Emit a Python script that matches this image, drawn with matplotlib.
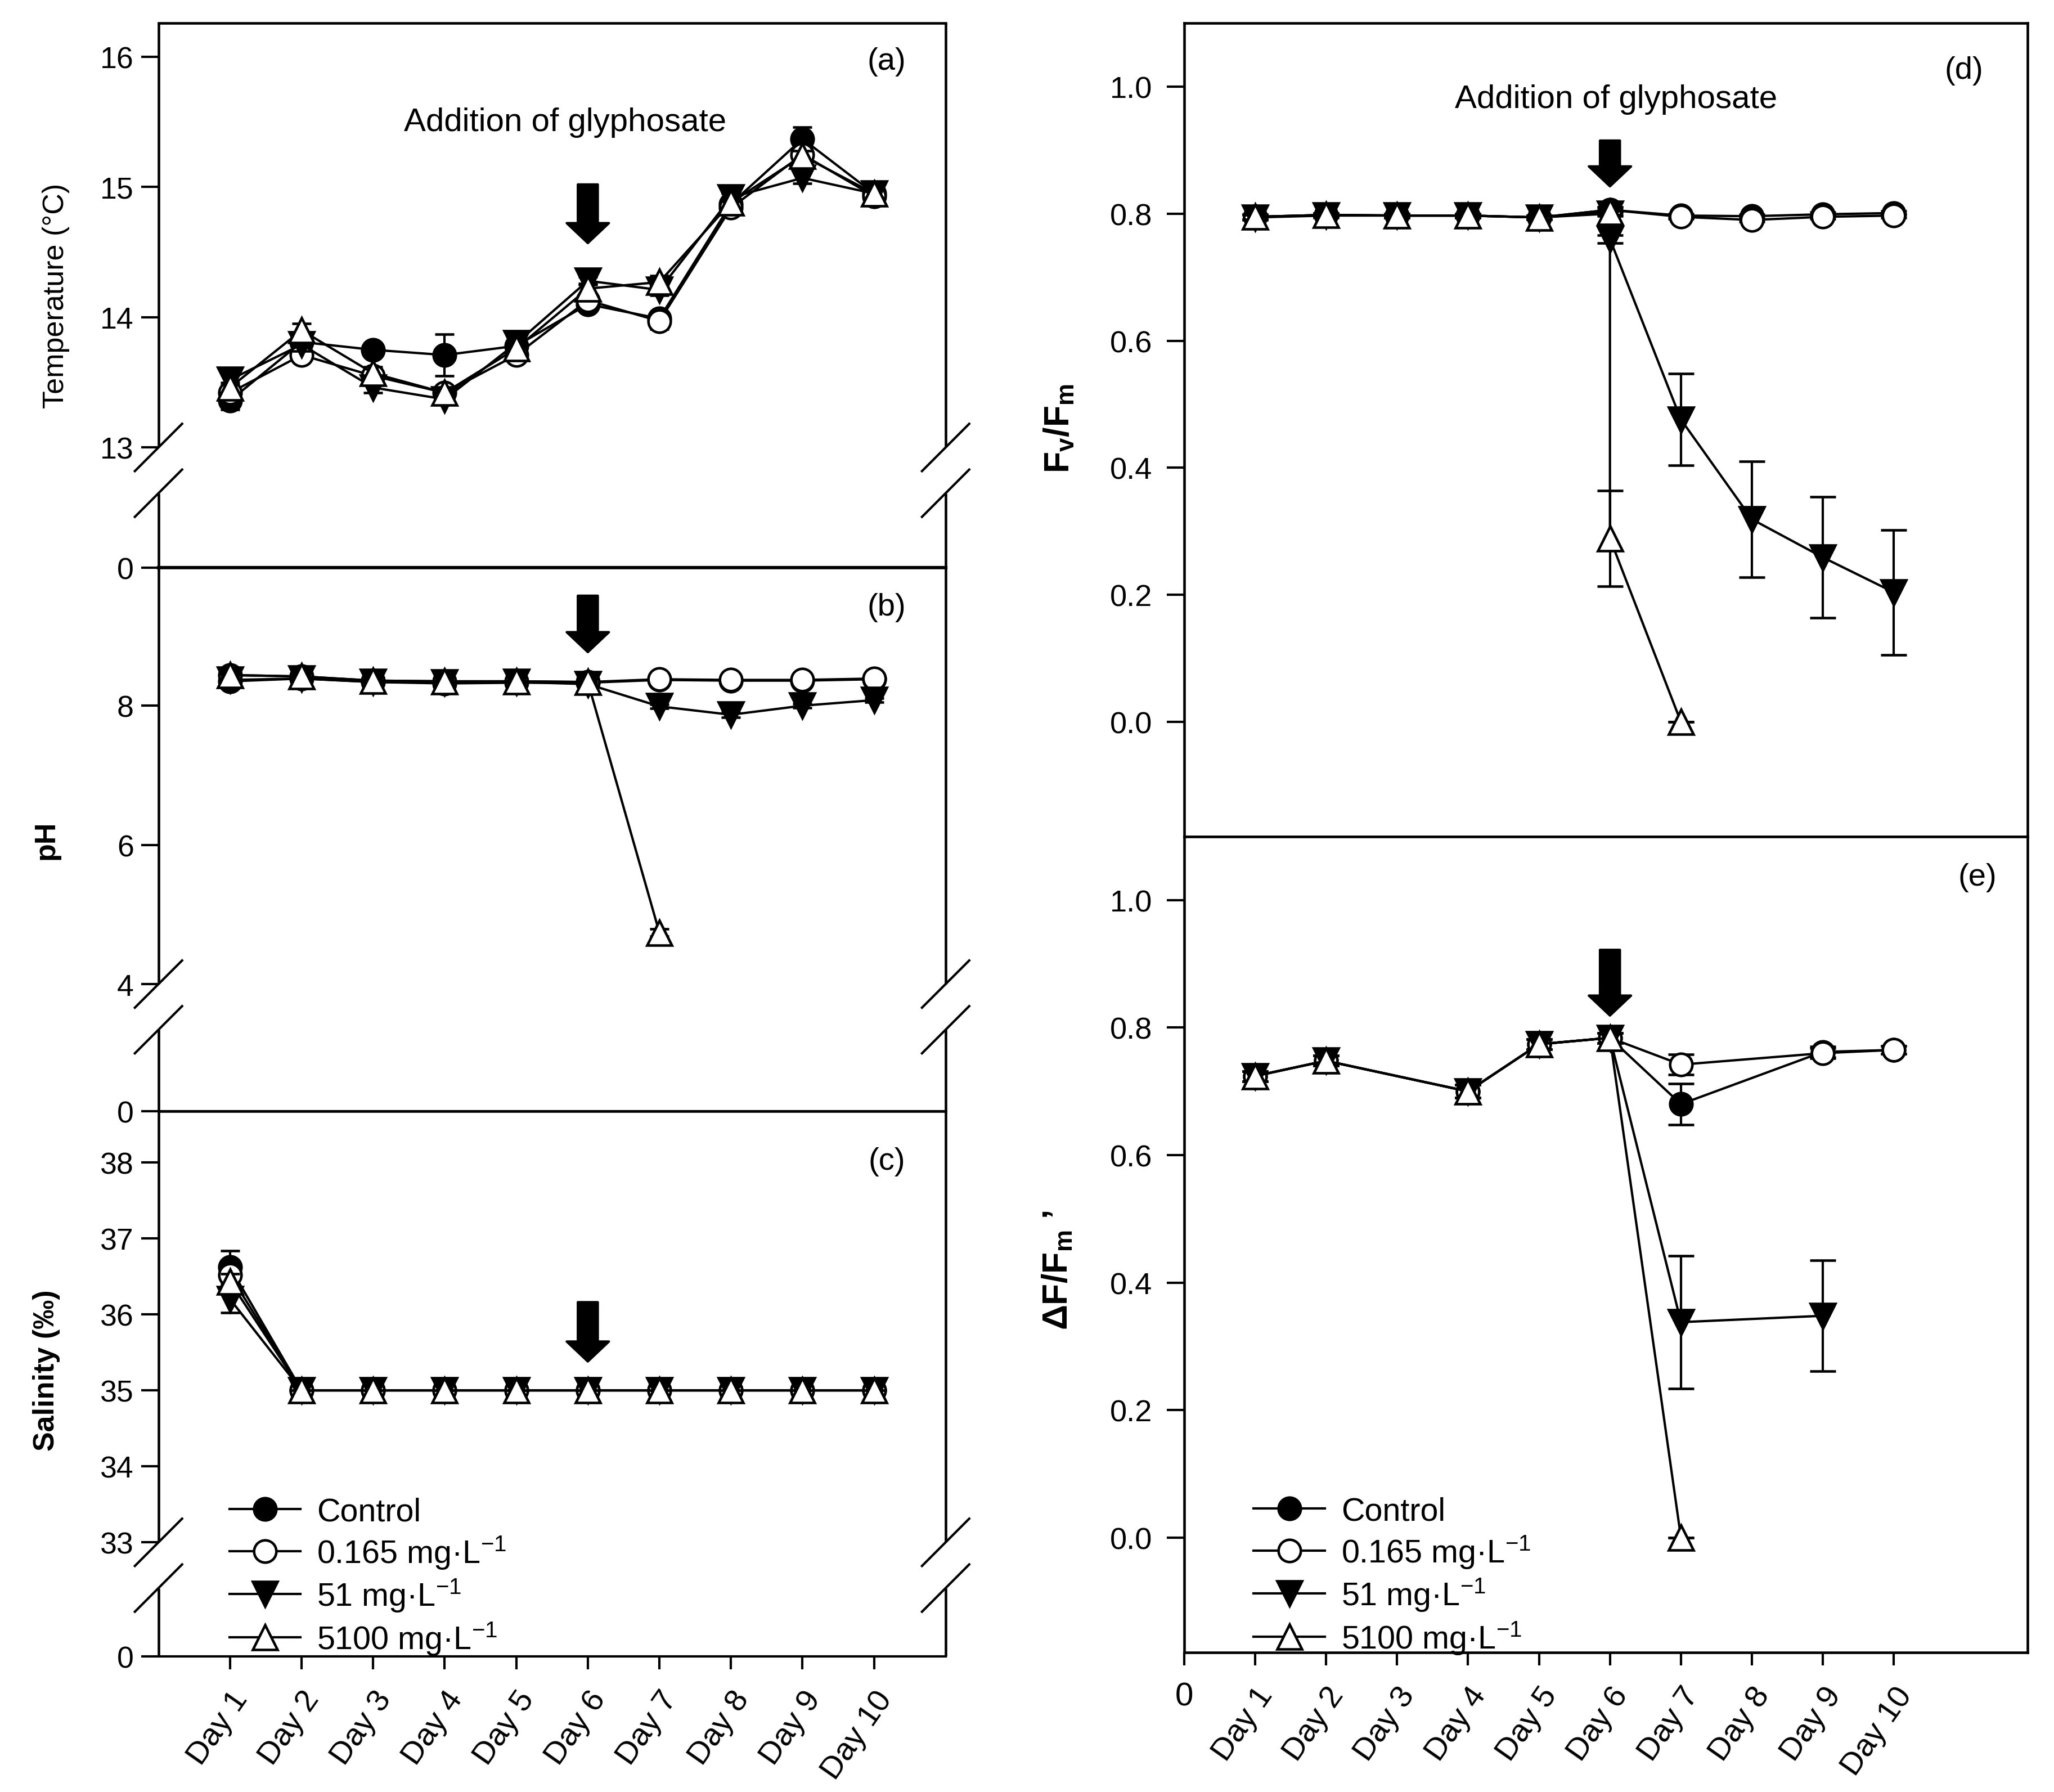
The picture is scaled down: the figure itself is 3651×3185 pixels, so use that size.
import numpy as np
import matplotlib
matplotlib.use("Agg")
import matplotlib.pyplot as plt
from matplotlib import font_manager
from matplotlib.patches import FancyArrowPatch
from matplotlib.lines import Line2D

# ---------------- data ----------------
DAYS = [1, 2, 3, 4, 5, 6, 7, 8, 9, 10]
DAY_LABELS = ["Day 1", "Day 2", "Day 3", "Day 4", "Day 5",
              "Day 6", "Day 7", "Day 8", "Day 9", "Day 10"]
SERIES = ["control", "c165", "c51", "c5100"]
LEGEND_LABELS = ["Control", "0.165 mg·L$^{-1}$", "51 mg·L$^{-1}$", "5100 mg·L$^{-1}$"]
ADDITION_DAY = 6

# (a) temperature
temp_control = [13.36, 13.81, 13.75, 13.71, 13.78, 14.10, 13.99, 14.87, 15.37, 14.95]
temp_control_sd = [0.07, 0.04, 0.05, 0.16, 0.03, 0.03, 0.05, 0.05, 0.09, 0.03]
temp_c165 = [13.42, 13.71, 13.55, 13.42, 13.71, 14.13, 13.97, 14.84, 15.25, 14.93]
temp_c165_sd = [0.05, 0.04, 0.04, 0.03, 0.03, 0.03, 0.06, 0.05, 0.05, 0.03]
temp_c51 = [13.52, 13.79, 13.46, 13.37, 13.80, 14.28, 14.21, 14.92, 15.07, 14.95]
temp_c51_sd = [0.04, 0.05, 0.04, 0.03, 0.03, 0.03, 0.04, 0.03, 0.04, 0.03]
temp_c5100 = [13.46, 13.90, 13.57, 13.42, 13.76, 14.22, 14.27, 14.88, 15.24, 14.95]
temp_c5100_sd = [0.04, 0.05, 0.05, 0.04, 0.04, 0.04, 0.05, 0.04, 0.04, 0.03]

# (b) pH
ph_control = [8.35, 8.39, 8.34, 8.32, 8.33, 8.33, 8.37, 8.36, 8.36, 8.38]
ph_control_sd = [0.03, 0.02, 0.02, 0.02, 0.02, 0.02, 0.02, 0.02, 0.02, 0.02]
ph_c165 = [8.44, 8.42, 8.36, 8.35, 8.35, 8.34, 8.38, 8.37, 8.37, 8.39]
ph_c165_sd = [0.03, 0.02, 0.02, 0.02, 0.02, 0.02, 0.02, 0.02, 0.02, 0.02]
ph_c51 = [8.37, 8.39, 8.34, 8.33, 8.34, 8.31, 7.99, 7.87, 8.00, 8.08]
ph_c51_sd = [0.03, 0.02, 0.02, 0.02, 0.02, 0.02, 0.03, 0.04, 0.03, 0.03]
ph_c5100_x = [1, 2, 3, 4, 5, 6, 7]
ph_c5100 = [8.44, 8.42, 8.36, 8.35, 8.35, 8.34, 4.74]
ph_c5100_sd = [0.03, 0.02, 0.02, 0.02, 0.02, 0.02, 0.05]

# (c) salinity
sal_control = [36.62, 35.0, 35.0, 35.0, 35.0, 35.0, 35.0, 35.0, 35.0, 35.0]
sal_control_sd = [0.22, 0, 0, 0, 0, 0, 0, 0, 0, 0]
sal_c165 = [36.52, 35.0, 35.0, 35.0, 35.0, 35.0, 35.0, 35.0, 35.0, 35.0]
sal_c165_sd = [0.15, 0, 0, 0, 0, 0, 0, 0, 0, 0]
sal_c51 = [36.20, 35.0, 35.0, 35.0, 35.0, 35.0, 35.0, 35.0, 35.0, 35.0]
sal_c51_sd = [0.18, 0, 0, 0, 0, 0, 0, 0, 0, 0]
sal_c5100 = [36.43, 35.0, 35.0, 35.0, 35.0, 35.0, 35.0, 35.0, 35.0, 35.0]
sal_c5100_sd = [0.10, 0, 0, 0, 0, 0, 0, 0, 0, 0]

# (d) Fv/Fm
fv_control = [0.795, 0.798, 0.797, 0.797, 0.794, 0.806, 0.797, 0.796, 0.799, 0.801]
fv_control_sd = [0.004, 0.003, 0.003, 0.003, 0.003, 0.004, 0.003, 0.003, 0.003, 0.003]
fv_c165 = [0.795, 0.798, 0.797, 0.797, 0.794, 0.806, 0.795, 0.790, 0.795, 0.797]
fv_c165_sd = [0.004, 0.003, 0.003, 0.003, 0.003, 0.004, 0.003, 0.003, 0.003, 0.003]
fv_c51_x = [1, 2, 3, 4, 5, 6, 6, 7, 8, 9, 10]
fv_c51 = [0.794, 0.797, 0.797, 0.797, 0.794, 0.800, 0.760, 0.476, 0.319, 0.259, 0.204]
fv_c51_sd = [0.004, 0.003, 0.003, 0.003, 0.003, 0.004, 0.006, 0.072, 0.091, 0.095, 0.098]
fv_c5100_x = [1, 2, 3, 4, 5, 6, 6, 7]
fv_c5100 = [0.795, 0.798, 0.797, 0.797, 0.794, 0.802, 0.289, 0.0]
fv_c5100_sd = [0.004, 0.003, 0.003, 0.003, 0.003, 0.004, 0.075, 0.0]

# (e) effective quantum yield
yld_x = [1, 2, 4, 5, 6, 7, 9, 10]
yld_control = [0.724, 0.748, 0.700, 0.774, 0.784, 0.680, 0.762, 0.765]
yld_control_sd = [0.008, 0.008, 0.010, 0.008, 0.008, 0.032, 0.008, 0.006]
yld_c165 = [0.724, 0.748, 0.700, 0.774, 0.784, 0.742, 0.760, 0.765]
yld_c165_sd = [0.008, 0.008, 0.010, 0.008, 0.008, 0.016, 0.008, 0.006]
yld_c51_x = [1, 2, 4, 5, 6, 7, 9]
yld_c51 = [0.724, 0.748, 0.700, 0.774, 0.784, 0.338, 0.348]
yld_c51_sd = [0.008, 0.008, 0.010, 0.008, 0.008, 0.104, 0.087]
yld_c5100_x = [1, 2, 4, 5, 6, 7]
yld_c5100 = [0.724, 0.748, 0.700, 0.774, 0.784, 0.0]
yld_c5100_sd = [0.008, 0.008, 0.010, 0.008, 0.008, 0.0]

# ---------------- fonts ----------------
_names = {f.name for f in font_manager.fontManager.ttflist}
if "Liberation Sans Narrow" in _names:
    NARROW, NS = "Liberation Sans Narrow", 1.0
else:
    NARROW, NS = "Liberation Sans", 0.92
plt.rcParams["font.family"] = ["Liberation Sans", "DejaVu Sans"]
plt.rcParams["mathtext.fontset"] = "custom"
plt.rcParams["mathtext.rm"] = "Liberation Sans"
plt.rcParams["mathtext.bf"] = "Liberation Sans:bold"
plt.rcParams["mathtext.it"] = "Liberation Sans:italic"

# ---------------- styles ----------------
LW = 1.0
EW = 1.0
MEW = 1.1
STYLE = {
    "control": dict(marker="o", mfc="black", ms=9.5, z=3),
    "c165": dict(marker="o", mfc="white", ms=9.5, z=4),
    "c51": dict(marker="v", mfc="black", ms=10.5, z=5),
    "c5100": dict(marker="^", mfc="white", ms=10.5, z=6),
}


def draw(ax, x, y, sd, key, cap=4):
    st = STYLE[key]
    ax.errorbar(x, y, yerr=sd, color="black", lw=LW, marker=st["marker"],
                mfc=st["mfc"], mec="black", mew=MEW, ms=st["ms"],
                ecolor="black", elinewidth=EW, capsize=cap, capthick=EW,
                zorder=st["z"], clip_on=False)


def break_scale(low, gap):
    def fwd(v):
        v = np.asarray(v, dtype=float)
        return np.where(v >= low, v - low + gap, v * gap / low)

    def inv(p):
        p = np.asarray(p, dtype=float)
        return np.where(p >= gap, p + low - gap, p * low / gap)
    return fwd, inv


def add_arrow(ax, x, y0, y1):
    ar = FancyArrowPatch((x, y0), (x, y1),
                         arrowstyle="simple,head_length=0.85,head_width=1.8,tail_width=0.85",
                         mutation_scale=10, color="black", shrinkA=0, shrinkB=0,
                         zorder=8)
    ax.add_patch(ar)


fig = plt.figure(figsize=(3651 / 300, 3186 / 300), dpi=300)
W, H = 1568.3, 1368.6


def rect(x0, x1, y0, y1):
    return [x0 / W, 1 - y1 / H, (x1 - x0) / W, (y1 - y0) / H]


ax_a = fig.add_axes(rect(121, 722, 18, 434))
ax_b = fig.add_axes(rect(121, 722, 434, 849))
ax_c = fig.add_axes(rect(121, 722, 849, 1265))
ax_d = fig.add_axes(rect(904, 1548, 18, 639))
ax_e = fig.add_axes(rect(904, 1548, 639, 1262))

SPW = 1.1

# ---------- left column (broken axes) ----------
left_cfg = [
    (ax_a, 13, 16.26, 0.925, [0, 13, 14, 15, 16], "Temperature (°C)", "normal", "(a)", 0.93, 1.5),
    (ax_b, 4, 9.98, 1.83, [0, 4, 6, 8], "pH", "bold", "(b)", 0.928, 1.0),
    (ax_c, 33, 38.67, 1.50, [0, 33, 34, 35, 36, 37, 38], "Salinity (‰)", "bold", "(c)", 0.909, 1.0),
]
for ax, low, top, gap, ticks, ylab, wt, letter, ly, blw in left_cfg:
    fwd, inv = break_scale(low, gap)
    ax.set_yscale("function", functions=(fwd, inv))
    ax.set_ylim(0, top)
    ax.set_xlim(0, 11.0)
    ax.set_yticks(ticks, [str(t) for t in ticks], fontfamily=NARROW, fontsize=14 * NS)
    ax.minorticks_off()
    ax.tick_params(axis="y", direction="out", length=7.5, width=1.0, pad=3)
    ax.tick_params(axis="x", bottom=False, labelbottom=False)
    for s in ("left", "right"):
        ax.spines[s].set_visible(False)
    ax.spines["top"].set_linewidth(SPW)
    ax.spines["bottom"].set_linewidth(blw)
    fb = float(fwd(low) / fwd(top))
    f2 = fb - 0.084
    dx, dy = 0.030, 0.0434
    for xx in (0, 1):
        ax.plot([xx, xx], [0, f2], transform=ax.transAxes, color="black", lw=SPW,
                clip_on=False, solid_capstyle="butt")
        ax.plot([xx, xx], [fb, 1], transform=ax.transAxes, color="black", lw=SPW,
                clip_on=False, solid_capstyle="butt")
        for ff in (fb, f2):
            ax.plot([xx - dx, xx + dx], [ff - dy, ff + dy], transform=ax.transAxes,
                    color="black", lw=1.0, clip_on=False)
    ax.set_ylabel(ylab, fontsize=12.5, fontweight=wt)
    ax.text(0.925, ly, letter, transform=ax.transAxes, ha="center", va="center", fontsize=13.5)

ax_a.yaxis.set_label_coords(-0.113, 0.5)
ax_b.yaxis.set_label_coords(-0.125, 0.5)
ax_c.yaxis.set_label_coords(-0.125, 0.526)

# data (a)
draw(ax_a, DAYS, temp_control, temp_control_sd, "control")
draw(ax_a, DAYS, temp_c165, temp_c165_sd, "c165")
draw(ax_a, DAYS, temp_c51, temp_c51_sd, "c51")
draw(ax_a, DAYS, temp_c5100, temp_c5100_sd, "c5100")
# data (b)
draw(ax_b, DAYS, ph_control, ph_control_sd, "control")
draw(ax_b, DAYS, ph_c165, ph_c165_sd, "c165")
draw(ax_b, DAYS, ph_c51, ph_c51_sd, "c51")
draw(ax_b, ph_c5100_x, ph_c5100, ph_c5100_sd, "c5100")
# data (c)
draw(ax_c, DAYS, sal_control, sal_control_sd, "control")
draw(ax_c, DAYS, sal_c165, sal_c165_sd, "c165")
draw(ax_c, DAYS, sal_c51, sal_c51_sd, "c51")
draw(ax_c, DAYS, sal_c5100, sal_c5100_sd, "c5100")

add_arrow(ax_a, ADDITION_DAY, 15.02, 14.57)
add_arrow(ax_b, ADDITION_DAY, 9.58, 8.77)
add_arrow(ax_c, ADDITION_DAY, 36.16, 35.38)
ax_a.text(5.68, 15.50, "Addition of glyphosate", ha="center", va="center",
          fontfamily=NARROW, fontsize=15.2 * NS)

ax_c.set_xticks(DAYS, DAY_LABELS)
ax_c.tick_params(axis="x", bottom=True, labelbottom=True, direction="out",
                 length=5.5, width=1.0, pad=7, labelsize=13.5)
for t in ax_c.get_xticklabels():
    t.set(rotation=55, ha="right", va="top", rotation_mode="anchor")

handles = [Line2D([], [], color="black", lw=LW, marker=STYLE[k]["marker"],
                  mfc=STYLE[k]["mfc"], mec="black", mew=MEW, ms=STYLE[k]["ms"])
           for k in SERIES]
ax_c.legend(handles, LEGEND_LABELS, loc="lower left", bbox_to_anchor=(0.082, -0.012),
            frameon=False, prop={"family": NARROW, "size": 15 * NS},
            handlelength=2.2, handletextpad=0.5, labelspacing=0.2,
            borderaxespad=0, borderpad=0.2)

# ---------- right column ----------
for ax in (ax_d, ax_e):
    ax.set_xlim(0, 11.88)
    ax.set_ylim(-0.18, 1.10)
    ax.set_yticks([0.0, 0.2, 0.4, 0.6, 0.8, 1.0], ["0.0", "0.2", "0.4", "0.6", "0.8", "1.0"])
    ax.tick_params(axis="y", direction="out", length=7.5, width=1.0, pad=6, labelsize=13)
    for s in ax.spines.values():
        s.set_linewidth(SPW)

ax_d.tick_params(axis="x", bottom=False, labelbottom=False)
ax_e.set_xticks([0] + DAYS, ["0"] + DAY_LABELS)
ax_e.tick_params(axis="x", direction="out", length=5.5, width=1.0, pad=7, labelsize=13.5)
for i, t in enumerate(ax_e.get_xticklabels()):
    if i == 0:
        t.set(rotation=0, ha="center", va="top", fontsize=14)
    else:
        t.set(rotation=55, ha="right", va="top", rotation_mode="anchor")

draw(ax_d, DAYS, fv_control, fv_control_sd, "control", cap=5.5)
draw(ax_d, DAYS, fv_c165, fv_c165_sd, "c165", cap=5.5)
draw(ax_d, fv_c51_x, fv_c51, fv_c51_sd, "c51", cap=5.5)
draw(ax_d, fv_c5100_x, fv_c5100, fv_c5100_sd, "c5100", cap=5.5)

draw(ax_e, yld_x, yld_control, yld_control_sd, "control", cap=5.5)
draw(ax_e, yld_x, yld_c165, yld_c165_sd, "c165", cap=5.5)
draw(ax_e, yld_c51_x, yld_c51, yld_c51_sd, "c51", cap=5.5)
draw(ax_e, yld_c5100_x, yld_c5100, yld_c5100_sd, "c5100", cap=5.5)

add_arrow(ax_d, ADDITION_DAY, 0.915, 0.843)
add_arrow(ax_e, ADDITION_DAY, 0.922, 0.819)
ax_d.text(6.09, 0.98, "Addition of glyphosate", ha="center", va="center",
          fontfamily=NARROW, fontsize=15.2 * NS)
ax_d.text(0.925, 0.942, "(d)", transform=ax_d.transAxes, ha="center", va="center", fontsize=13.5)
ax_e.text(0.941, 0.95, "(e)", transform=ax_e.transAxes, ha="center", va="center", fontsize=13.5)

ax_d.set_ylabel(r"$\mathbf{F_v/F_m}$", fontsize=15)
ax_d.yaxis.set_label_coords(-0.128, 0.502)
ax_e.set_ylabel("ΔF/F$_\\mathbf{m}$ ’", fontsize=15, fontweight="bold")
ax_e.yaxis.set_label_coords(-0.13, 0.469)

ax_e.legend(handles, LEGEND_LABELS, loc="lower left", bbox_to_anchor=(0.075, -0.012),
            frameon=False, prop={"family": NARROW, "size": 15 * NS},
            handlelength=2.2, handletextpad=0.5, labelspacing=0.2,
            borderaxespad=0, borderpad=0.2)

fig.savefig("out.png", dpi=300, facecolor="white")
